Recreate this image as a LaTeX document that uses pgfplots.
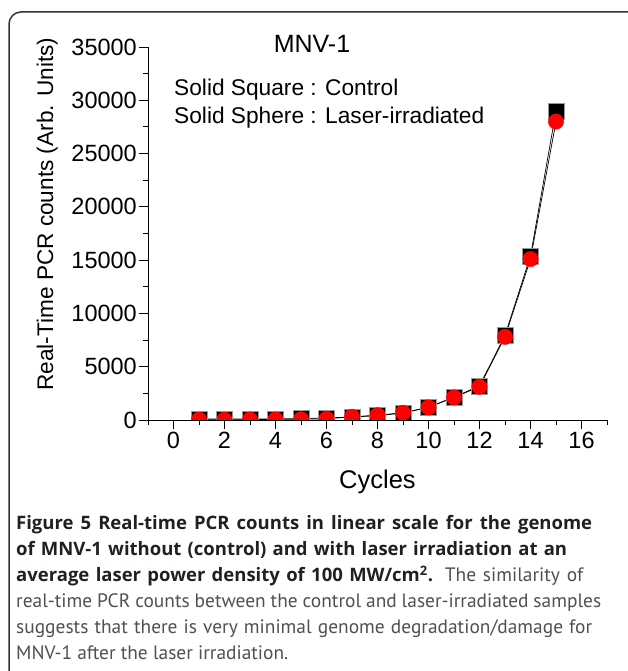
\documentclass[border=0pt]{standalone}
\usepackage{fontspec}
\setmainfont{Liberation Sans}
\newfontfamily\capfont{PT Sans}
\newfontfamily\capbold{Open Sans}
\usepackage{pgfplots}
\pgfplotsset{compat=1.18}
\definecolor{capgray}{HTML}{505050}
\definecolor{capblack}{HTML}{231F20}
\newcommand{\capbf}{\capbold\bfseries\fontsize{18.5}{18.5}\selectfont\color{capblack}}
\begin{document}
\begin{tikzpicture}[x=1pt,y=1pt]
\path[use as bounding box] (0,0) rectangle (627,671);
\draw[line width=1.5pt, black!80, rounded corners=12pt] (9,-40) rectangle (680,659);
\begin{axis}[
  at={(148pt,251pt)}, anchor=south west,
  scale only axis, width=459pt, height=373pt,
  xmin=-1, xmax=17, ymin=0, ymax=35000,
  axis x line=bottom, axis y line=left,
  axis line style={-, line width=0.9pt},
  xtick={0,2,...,16}, ytick={0,5000,...,35000},
  minor xtick={-1,1,...,17}, minor ytick={2500,7500,...,32500},
  tick align=outside,
  major tick length=9pt, minor tick length=5pt,
  tick style={line width=0.9pt, black},
  scaled y ticks=false,
  /pgf/number format/1000 sep={},
  /pgf/number format/assume math mode=true,
  tick label style={font=\fontsize{23.5}{23.5}\selectfont},
  yticklabel style={inner sep=2pt},
  xlabel={Cycles}, ylabel={Real-Time PCR counts (Arb. Units)},
  xlabel style={font=\fontsize{25.5}{25.5}\selectfont},
  xlabel shift=14pt,
  ylabel style={font=\fontsize{22.6}{22.6}\selectfont, at={(ticklabel cs:0.552)}},
  ylabel shift=8pt,
  clip marker paths=true,
]
\addplot[black, line width=0.7pt] coordinates {
(1,100)(2,100)(3,100)(4,110)(5,130)(6,190)(7,280)(8,400)(9,650)(10,1200)(11,2150)(12,3200)(13,7950)(14,15400)(15,29000)};
\addplot[black, line width=0.7pt] coordinates {
(1,30)(2,30)(3,40)(4,50)(5,70)(6,110)(7,300)(8,450)(9,680)(10,1180)(11,2120)(12,3120)(13,7800)(14,15100)(15,28000)};
\addplot[only marks, mark=square*, mark size=8pt, mark options={fill=black, draw=black!40, line width=0.5pt}] coordinates {
(1,100)(2,100)(3,100)(4,110)(5,130)(6,190)(7,280)(8,400)(9,650)(10,1200)(11,2150)(12,3200)(13,7950)(14,15400)(15,29000)};
\addplot[only marks, mark=*, mark size=7.7pt, mark options={fill=red, draw=red}] coordinates {
(1,30)(2,30)(3,40)(4,50)(5,70)(6,110)(7,300)(8,450)(9,680)(10,1180)(11,2120)(12,3120)(13,7800)(14,15100)(15,28000)};
\end{axis}
\node[anchor=base, font=\fontsize{25}{25}\selectfont] at (312,618) {MNV-1};
\node[anchor=base west, inner sep=0pt, font=\fontsize{22.7}{22.7}\selectfont] at (174,575) {Solid Square : Control};
\node[anchor=base west, inner sep=0pt, font=\fontsize{22.7}{22.7}\selectfont] at (174,547) {Solid Sphere : Laser-irradiated};
\begin{scope}[every node/.style={anchor=base west, inner sep=0pt, font=\capfont\fontsize{19.4}{19.4}\selectfont, text=capgray}]
\node at (16,141) {\makebox[576pt][s]{\capbf Figure 5 Real-time PCR counts in linear scale for the genome}};
\node at (16,115) {\makebox[551pt][s]{\capbf of MNV-1 without (control) and with laser irradiation at an}};
\node at (16,89) {\makebox[567pt][s]{{\capbf average laser power density of 100 MW/cm\textsuperscript{2}.} The similarity of}};
\node at (16,63) {\makebox[585pt][s]{real-time PCR counts between the control and laser-irradiated samples}};
\node at (16,37) {\makebox[576pt][s]{suggests that there is very minimal genome degradation/damage for}};
\node at (16,12) {MNV-1 after the laser irradiation.};
\end{scope}
\end{tikzpicture}
\end{document}
